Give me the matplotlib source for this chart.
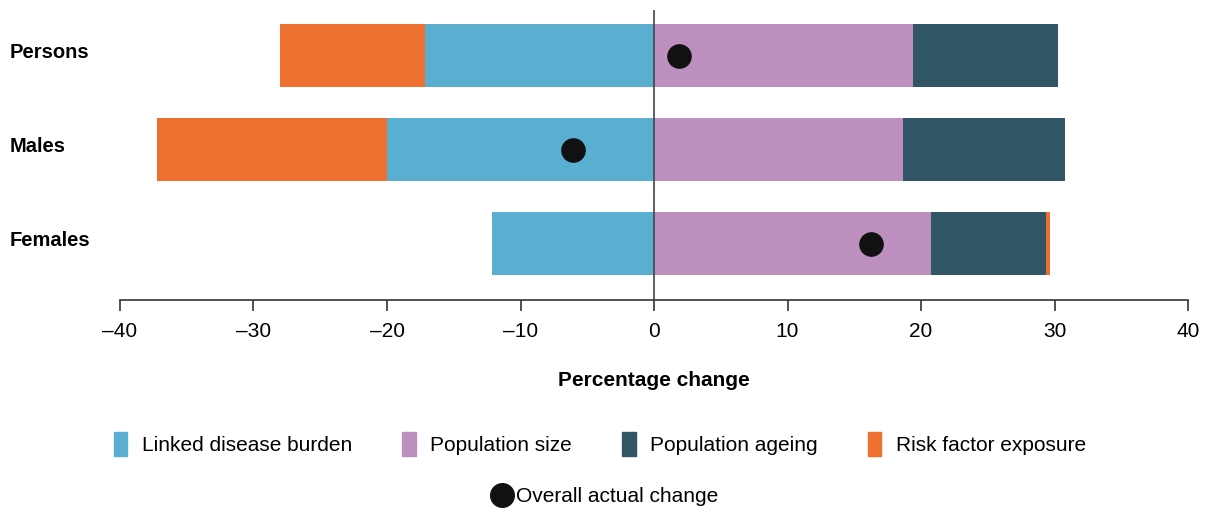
import matplotlib
matplotlib.use("Agg")
import matplotlib.pyplot as plt
from matplotlib.patches import Patch
from matplotlib.lines import Line2D
from matplotlib import font_manager

groups = ["Persons", "Males", "Females"]
linked = [-17.15, -20.0, -12.1]
risk = [-10.85, -17.2, 0.25]
pop_size = [19.4, 18.65, 20.75]
ageing = [10.86, 12.1, 8.65]
overall = [1.9, -6.1, 16.25]
ticks = [-40, -30, -20, -10, 0, 10, 20, 30, 40]
tick_labels = ["\u201340", "\u201330", "\u201320", "\u201310", "0", "10", "20", "30", "40"]

c_linked = "#5aafd1"
c_size = "#bd90c0"
c_age = "#305564"
c_risk = "#ee7030"

names = {f.name for f in font_manager.fontManager.ttflist}
narrow = "Liberation Sans Narrow" if "Liberation Sans Narrow" in names else "Liberation Sans"

fig = plt.figure(figsize=(12.09, 5.12), dpi=100)
fig.patch.set_facecolor("white")
ax = fig.add_axes([120/1209, 1-300/512, 1068/1209, 290/512])

ypos = list(range(len(groups)))
h = 0.67
ax.barh(ypos, linked, height=h, color=c_linked)
risk_left = [l if r < 0 else p + a for l, r, p, a in zip(linked, risk, pop_size, ageing)]
ax.barh(ypos, risk, left=risk_left, height=h, color=c_risk)
ax.barh(ypos, pop_size, height=h, color=c_size)
ax.barh(ypos, ageing, left=pop_size, height=h, color=c_age)
ax.scatter(overall, ypos, s=280, color="#111111", zorder=5)
ax.axvline(0, color="#444444", lw=1.2, zorder=4)

ax.set_xlim(-40, 40)
ax.set_ylim(2.596, -0.489)
ax.set_xticks(ticks)
ax.set_xticklabels(tick_labels, fontsize=15, family=narrow)
ax.set_yticks([])
for s in ["left", "right", "top"]:
    ax.spines[s].set_visible(False)
ax.spines["bottom"].set_color("#333333")
ax.spines["bottom"].set_linewidth(1.2)
ax.tick_params(axis="x", length=8, width=1.2, color="#333333", pad=8)
ax.set_facecolor("white")

for i, g in enumerate(groups):
    fig.text(10/1209, 1 - (53 + 94*i)/512, g, fontsize=14.5, fontweight="bold",
             family="Liberation Sans", va="center", ha="left")

fig.text(654/1209, 1-380/512, "Percentage change", fontsize=15, fontweight="bold",
         family=narrow, ha="center", va="center")

handles = [Patch(color=c_linked, label="Linked disease burden"),
           Patch(color=c_size, label="Population size"),
           Patch(color=c_age, label="Population ageing"),
           Patch(color=c_risk, label="Risk factor exposure")]
fig.legend(handles=handles, loc="center", bbox_to_anchor=(600/1209, 1-444/512),
           ncol=4, frameon=False, prop={"family": narrow, "size": 15},
           handlelength=0.65, handleheight=1.4, handletextpad=0.7, columnspacing=2.4)
dot = [Line2D([], [], marker="o", ls="", color="#111111", markersize=17, label="Overall actual change")]
fig.legend(handles=dot, loc="center", bbox_to_anchor=(606/1209, 1-497/512), frameon=False,
           prop={"family": narrow, "size": 15}, handlelength=0.8, handletextpad=0.3)

fig.savefig("out.png", dpi=100, facecolor="white")
